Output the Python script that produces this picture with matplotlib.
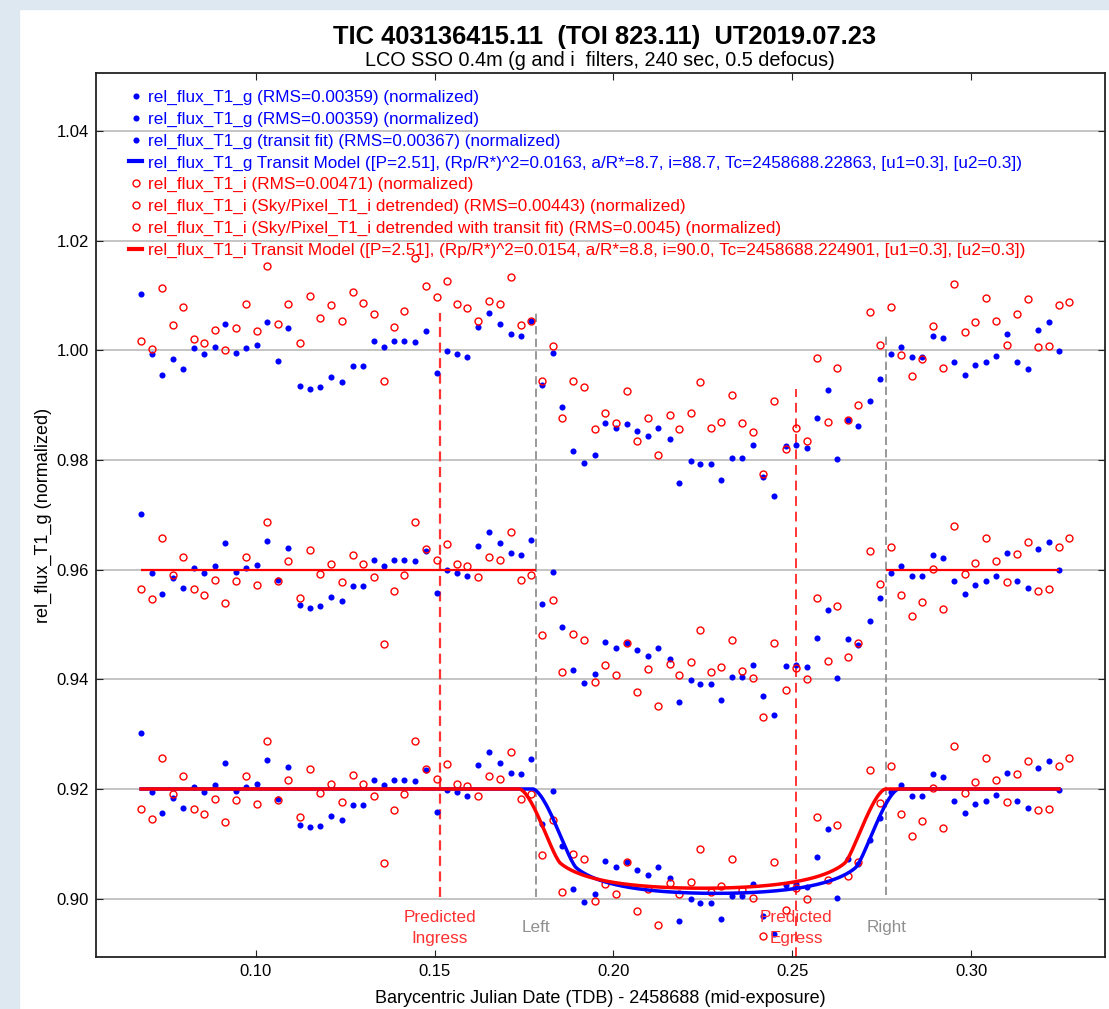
import numpy as np
import matplotlib.pyplot as plt
from matplotlib.lines import Line2D
from matplotlib.patches import Rectangle

plt.rcParams['font.family'] = ['Liberation Sans', 'DejaVu Sans']

# mid-exposure times, BJD_TDB - 2458688 (the i series has one extra frame at the end)
bjd = np.array([
    0.0680, 0.0711, 0.0738, 0.0770, 0.0798, 0.0828, 0.0856, 0.0887, 0.0915, 0.0945,
    0.0973, 0.1005, 0.1033, 0.1063, 0.1091, 0.1123, 0.1153, 0.1181, 0.1212, 0.1241,
    0.1271, 0.1299, 0.1330, 0.1358, 0.1387, 0.1415, 0.1446, 0.1475, 0.1506, 0.1534,
    0.1564, 0.1592, 0.1622, 0.1651, 0.1682, 0.1714, 0.1741, 0.1769, 0.1800, 0.1830,
    0.1857, 0.1888, 0.1918, 0.1948, 0.1977, 0.2008, 0.2039, 0.2067, 0.2098, 0.2126,
    0.2157, 0.2184, 0.2216, 0.2242, 0.2273, 0.2301, 0.2332, 0.2360, 0.2391, 0.2419,
    0.2450, 0.2481, 0.2509, 0.2540, 0.2568, 0.2599, 0.2626, 0.2656, 0.2685, 0.2716,
    0.2744, 0.2775, 0.2803, 0.2834, 0.2862, 0.2893, 0.2920, 0.2953, 0.2982, 0.3010,
    0.3041, 0.3069, 0.3101, 0.3128, 0.3159, 0.3187, 0.3218, 0.3245, 0.3274])

# g filter, normalized rel_flux_T1
flux_g = np.array([
    1.0102, 0.9994, 0.9956, 0.9984, 0.9966, 1.0004, 0.9994, 1.0007, 1.0048, 0.9996,
    1.0004, 1.0009, 1.0052, 0.9981, 1.0040, 0.9935, 0.9930, 0.9933, 0.9951, 0.9943,
    0.9971, 0.9971, 1.0017, 1.0007, 1.0017, 1.0017, 1.0015, 1.0035, 0.9958, 0.9999,
    0.9994, 0.9988, 1.0043, 1.0068, 1.0048, 1.0030, 1.0027, 1.0054, 0.9937, 0.9996,
    0.9896, 0.9817, 0.9794, 0.9809, 0.9868, 0.9858, 0.9866, 0.9853, 0.9843, 0.9858,
    0.9838, 0.9759, 0.9799, 0.9792, 0.9792, 0.9763, 0.9804, 0.9804, 0.9827, 0.9769,
    0.9735, 0.9825, 0.9827, 0.9822, 0.9876, 0.9927, 0.9802, 0.9873, 0.9863, 0.9907,
    0.9948, 0.9994, 1.0007, 0.9988, 0.9988, 1.0027, 1.0022, 0.9979, 0.9956, 0.9973,
    0.9979, 0.9989, 1.0030, 0.9979, 0.9966, 1.0038, 1.0051, 0.9999])

# i filter, normalized rel_flux_T1 (raw)
flux_i = np.array([
    1.0018, 1.0003, 1.0113, 1.0046, 1.0080, 1.0021, 1.0013, 1.0038, 1.0000, 1.0041,
    1.0085, 1.0036, 1.0154, 1.0049, 1.0085, 1.0013, 1.0100, 1.0059, 1.0082, 1.0054,
    1.0106, 1.0087, 1.0067, 0.9944, 1.0042, 1.0072, 1.0168, 1.0118, 1.0098, 1.0126,
    1.0085, 1.0077, 1.0054, 1.0090, 1.0085, 1.0134, 1.0046, 1.0053, 0.9945, 1.0008,
    0.9877, 0.9944, 0.9934, 0.9857, 0.9885, 0.9867, 0.9926, 0.9834, 0.9877, 0.9810,
    0.9882, 0.9857, 0.9885, 0.9942, 0.9859, 0.9870, 0.9918, 0.9867, 0.9851, 0.9775,
    0.9908, 0.9821, 0.9859, 0.9834, 0.9987, 0.9870, 0.9967, 0.9873, 0.9901, 1.0070,
    1.0010, 1.0080, 0.9992, 0.9954, 0.9985, 1.0044, 0.9967, 1.0121, 1.0034, 1.0051,
    1.0095, 1.0054, 1.0010, 1.0067, 1.0093, 1.0006, 1.0008, 1.0082, 1.0088])

# i filter, detrended against Sky/Pixel_T1_i
flux_i_det = np.array([
    0.9964, 0.9946, 1.0057, 0.9990, 1.0023, 0.9964, 0.9954, 0.9982, 0.9939, 0.9980,
    1.0023, 0.9972, 1.0087, 0.9980, 1.0016, 0.9949, 1.0036, 0.9992, 1.0010, 0.9977,
    1.0026, 1.0010, 0.9987, 0.9865, 0.9962, 0.9990, 1.0087, 1.0037, 1.0018, 1.0046,
    1.0010, 1.0006, 0.9987, 1.0023, 1.0018, 1.0068, 0.9982, 0.9990, 0.9880, 0.9944,
    0.9813, 0.9882, 0.9872, 0.9795, 0.9826, 0.9808, 0.9867, 0.9777, 0.9818, 0.9752,
    0.9828, 0.9808, 0.9831, 0.9890, 0.9813, 0.9823, 0.9872, 0.9815, 0.9802, 0.9731,
    0.9867, 0.9780, 0.9820, 0.9800, 0.9949, 0.9834, 0.9934, 0.9841, 0.9867, 1.0034,
    0.9974, 1.0042, 0.9954, 0.9915, 0.9941, 1.0002, 0.9928, 1.0079, 0.9992, 1.0013,
    1.0057, 1.0016, 0.9977, 1.0028, 1.0051, 0.9962, 0.9964, 1.0042, 1.0057])

bjd_g = bjd[:len(flux_g)]
offsets = [0.0, -0.04, -0.08]

# fitted transit parameters
fit_g = dict(tc=0.22863, period=2.51, depth=0.0163, a_rs=8.7, inc=88.7, u1=0.3, u2=0.3)
fit_i = dict(tc=0.224901, period=2.51, depth=0.0154, a_rs=8.8, inc=90.0, u1=0.3, u2=0.3)

t_ingress, t_egress = 0.1514, 0.2511
t_left, t_right = 0.1784, 0.2763


def transit_model(t, tc, period, depth, a_rs, inc, u1, u2):
    # quadratic limb darkening, occulted flux summed over a polar grid on the planet disk
    k = np.sqrt(depth)
    phase = 2 * np.pi * (t - tc) / period
    ci = np.cos(np.radians(inc))
    z = a_rs * np.sqrt(np.sin(phase) ** 2 + (ci * np.cos(phase)) ** 2)
    nr, nth = 80, 160
    r = (np.arange(nr) + 0.5) / nr * k
    th = (np.arange(nth) + 0.5) / nth * 2 * np.pi
    R, TH = np.meshgrid(r, th)
    dA = (k / nr) * (2 * np.pi / nth) * R
    px, py = R * np.cos(TH), R * np.sin(TH)
    norm = np.pi * (1 - u1 / 3 - u2 / 6)
    flux = np.ones_like(t)
    for j, zj in enumerate(z):
        if zj > 1 + k:
            continue
        r2 = (px + zj) ** 2 + py ** 2
        mu = np.sqrt(np.clip(1 - r2, 0, None))
        inten = (1 - u1 * (1 - mu) - u2 * (1 - mu) ** 2) * (r2 < 1)
        flux[j] = 1 - np.sum(inten * dA) / norm
    return flux


t_model = np.linspace(bjd_g[0], bjd_g[-1], 1500)
model_g = transit_model(t_model, **fit_g)
model_i = transit_model(t_model, **fit_i)

W, H = 1109, 1009
fig = plt.figure(figsize=(W / 100, H / 100), dpi=100)
fig.patches.append(Rectangle((0, 0), 19 / W, 1, transform=fig.transFigure,
                             color='#dde8f0', zorder=-5))
fig.patches.append(Rectangle((0, 1 - 9 / H), 1, 9 / H, transform=fig.transFigure,
                             color='#dde8f0', zorder=-5))

ax = fig.add_axes([95.7 / W, 1 - 957.3 / H, (1105 - 95.7) / W, (957.3 - 73) / H])

blue = '#0000ff'
red = '#ff0000'

for off in offsets:
    ax.plot(bjd_g, flux_g + off, 'o', color=blue, ms=4.4, mew=0, zorder=3)
ax.plot(bjd, flux_i + offsets[0], 'o', mfc='none', mec=red, ms=5.0, mew=1.0, zorder=3)
for off in offsets[1:]:
    ax.plot(bjd, flux_i_det + off, 'o', mfc='none', mec=red, ms=5.0, mew=1.0, zorder=3)

# detrend baseline over the out-of-transit parts
base = 1.0 + offsets[1]
ax.hlines([base, base], [bjd_g[0], t_right], [t_left, bjd_g[-1]], color=red, lw=1.6, zorder=4)

ax.plot(t_model, model_g + offsets[2], color=blue, lw=2.5, zorder=5)
ax.plot(t_model, model_i + offsets[2], color=red, lw=2.5, zorder=6)

# ingress / egress predictions and fit window
ax.plot([t_ingress] * 2, [0.9003, 1.0068], color='#ff3333', lw=1.6, dashes=(4.5, 2.5), zorder=2)
ax.plot([t_egress] * 2, [0.8893, 0.9929], color='#ff3333', lw=1.4, dashes=(5, 3), zorder=2)
ax.plot([t_left] * 2, [0.9003, 1.0068], color='#888888', lw=1.2, dashes=(5, 2.5), zorder=2)
ax.plot([t_right] * 2, [0.9006, 1.0027], color='#888888', lw=1.2, dashes=(5, 2.5), zorder=2)

ax.text(t_ingress, 0.8947, 'Predicted\nIngress', color='#ff3030', fontsize=12.3,
        ha='center', va='center', linespacing=1.5)
ax.text(t_egress, 0.8947, 'Predicted\nEgress', color='#ff3030', fontsize=12.3,
        ha='center', va='center', linespacing=1.5)
ax.text(t_left, 0.8948, 'Left', color='#909090', fontsize=12.3, ha='center', va='center')
ax.text(t_right, 0.8948, 'Right', color='#909090', fontsize=12.3, ha='center', va='center')

ax.set_xlim(0.0553, 0.3374)
ax.set_ylim(0.8893, 1.0506)
ax.set_xticks([0.10, 0.15, 0.20, 0.25, 0.30])
ax.set_yticks(np.arange(0.90, 1.041, 0.02))
ax.xaxis.set_major_formatter('{x:.2f}')
ax.yaxis.set_major_formatter('{x:.2f}')
ax.tick_params(direction='in', length=5, labelsize=12, pad=5, top=True, right=True,
               color='#222222')
ax.yaxis.grid(True, color='#c4c4c4', lw=1.4)
ax.set_axisbelow(True)
for s in ax.spines.values():
    s.set_color('#222222')
    s.set_linewidth(1.3)

ax.set_xlabel('Barycentric Julian Date (TDB) - 2458688 (mid-exposure)', fontsize=13)
ax.set_ylabel('rel_flux_T1_g (normalized)', fontsize=13)
ax.xaxis.set_label_coords(0.5, -0.037)
ax.yaxis.set_label_coords(-0.043, 0.5)

x_mid = (95.7 + 1105) / 2 / W
fig.text(x_mid + 0.004, 1 - 37 / H, 'TIC 403136415.11  (TOI 823.11)  UT2019.07.23',
         fontsize=18.4, fontweight='bold', ha='center', va='center')
fig.text(x_mid, 1 - 61 / H, 'LCO SSO 0.4m (g and i  filters, 240 sec, 0.5 defocus)',
         fontsize=14.3, ha='center', va='center')

labels = [
    'rel_flux_T1_g (RMS=0.00359) (normalized)',
    'rel_flux_T1_g (RMS=0.00359) (normalized)',
    'rel_flux_T1_g (transit fit) (RMS=0.00367) (normalized)',
    'rel_flux_T1_g Transit Model ([P=2.51], (Rp/R*)^2=0.0163, a/R*=8.7, i=88.7, '
    'Tc=2458688.22863, [u1=0.3], [u2=0.3])',
    'rel_flux_T1_i (RMS=0.00471) (normalized)',
    'rel_flux_T1_i (Sky/Pixel_T1_i detrended) (RMS=0.00443) (normalized)',
    'rel_flux_T1_i (Sky/Pixel_T1_i detrended with transit fit) (RMS=0.0045) (normalized)',
    'rel_flux_T1_i Transit Model ([P=2.51], (Rp/R*)^2=0.0154, a/R*=8.8, i=90.0, '
    'Tc=2458688.224901, [u1=0.3], [u2=0.3])',
]
dot = dict(marker='o', ls='none', color=blue, ms=4.4, mew=0)
ring = dict(marker='o', ls='none', mfc='none', mec=red, ms=5.0, mew=1.0)
handles = [Line2D([], [], **dot), Line2D([], [], **dot), Line2D([], [], **dot),
           Line2D([], [], color=blue, lw=3),
           Line2D([], [], **ring), Line2D([], [], **ring), Line2D([], [], **ring),
           Line2D([], [], color=red, lw=3)]
colors = [blue] * 4 + [red] * 4
leg = ax.legend(handles, labels, loc='upper left', bbox_to_anchor=(0.033, 0.9807),
                frameon=False, fontsize=12.3, handlelength=0.78, handletextpad=0.35,
                labelspacing=0.39, borderpad=0, borderaxespad=0)
for txt, c in zip(leg.get_texts(), colors):
    txt.set_color(c)

fig.savefig('out.png', dpi=100)
